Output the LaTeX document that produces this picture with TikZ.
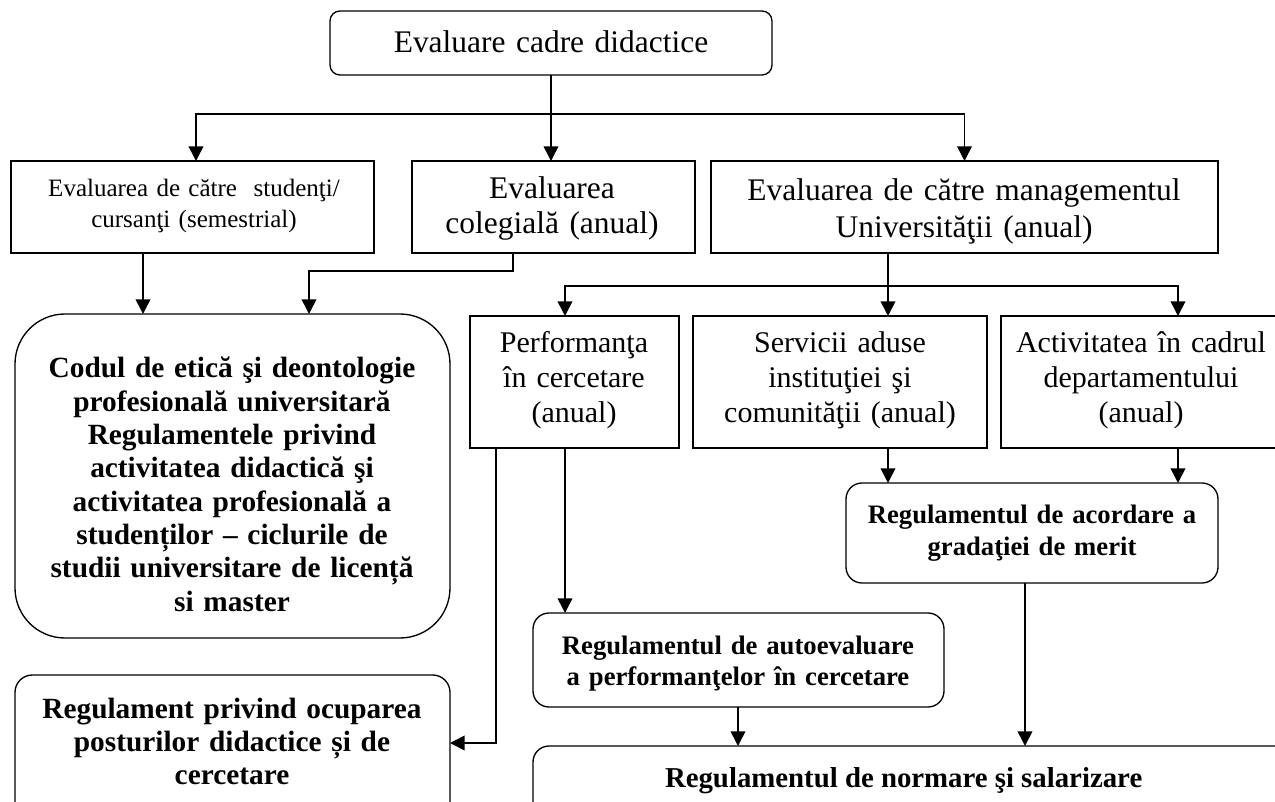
\documentclass[tikz,border=0pt]{standalone}
\usepackage{fontspec}
\setmainfont{Liberation Serif}
\usetikzlibrary{arrows.meta,calc}
\begin{document}
\begin{tikzpicture}[x=0.75pt,y=-0.75pt,
  box/.style={draw, line width=1pt, inner sep=0pt, outer sep=0pt},
  bx/.style 2 args={minimum width=#1*0.75pt, minimum height=#2*0.75pt},
  txt/.style={inner sep=0pt, outer sep=0pt, align=center, anchor=base},
  conn/.style={line width=1.2pt},
  arr/.style={conn, -{Triangle[length=11pt,width=11pt]}}]
\useasboundingbox (0,0) rectangle (1275,802);
\clip (0,0) rectangle (1275,802);

% boxes
\node[box, bx={442}{64}, rounded corners=7.5pt] (top) at (551,43) {};
\node[box, bx={363}{92}] (b1) at (192.5,207) {};
\node[box, bx={283}{92}] (b2) at (553.5,207) {};
\node[box, bx={507}{92}] (b3) at (964.5,207) {};
\node[box, bx={435}{324}, rounded corners=37.5pt] (codul) at (232.5,476) {};
\node[box, bx={209}{132}] (perf) at (574.5,382) {};
\node[box, bx={294}{132}] (serv) at (840,382) {};
\node[box, bx={280}{132}] (activ) at (1141,382) {};
\node[box, bx={372}{100}, rounded corners=12pt] (grad) at (1032,533) {};
\node[box, bx={411}{94}, rounded corners=12pt] (auto) at (738.5,660) {};
\node[box, bx={435}{160}, rounded corners=13pt] (priv) at (232.5,755) {};
\node[box, bx={800}{100}, rounded corners=12pt] (norm) at (933,796) {};

% texts
\node[txt, text width=330pt, font=\fontsize{23.6}{26}\selectfont] (ttop) at (551,53) {Evaluare cadre didactice};
\node[txt, text width=265pt, font=\fontsize{18.75}{23.25}\selectfont] (tb1) at (194,197) {Evaluarea de către~ studenţi/\\cursanţi (semestrial)};
\node[txt, text width=205pt, font=\fontsize{23.6}{26.25}\selectfont] (tb2) at (552,199) {Evaluarea\\colegială (anual)};
\node[txt, text width=370pt, font=\fontsize{23.6}{27.75}\selectfont] (tb3) at (964,201) {Evaluarea de către managementul\\Universităţii (anual)};
\node[txt, text width=155pt, font=\fontsize{22.5}{26.25}\selectfont] (tperf) at (574,353) {Performanţa\\în cercetare\\(anual)};
\node[txt, text width=215pt, font=\fontsize{22.5}{26.25}\selectfont] (tserv) at (840,353) {Servicii aduse\\instituţiei şi\\comunităţii (anual)};
\node[txt, text width=205pt, font=\fontsize{22.5}{26.25}\selectfont] (tactiv) at (1141,353) {Activitatea în cadrul\\departamentului\\(anual)};
\node[txt, text width=320pt, font=\bfseries\fontsize{22}{25}\selectfont] (tcod) at (232,378) {Codul de etică şi deontologie\\profesională universitară\\Regulamentele privind\\activitatea didactică şi\\activitatea profesională a\\studenților – ciclurile de\\studii universitare de licență\\si master};
\node[txt, text width=320pt, font=\bfseries\fontsize{22}{25}\selectfont] (tpriv) at (232,718) {Regulament privind ocuparea\\posturilor didactice și de\\cercetare};
\node[txt, text width=270pt, font=\bfseries\fontsize{20}{24}\selectfont] (tgrad) at (1032,523) {Regulamentul de acordare a\\gradaţiei de merit};
\node[txt, text width=300pt, font=\bfseries\fontsize{20}{23.25}\selectfont] (tauto) at (738,654) {Regulamentul de autoevaluare\\a performanţelor în cercetare};
\node[txt, anchor=base west, font=\bfseries\fontsize{21.6}{25}\selectfont] (tnorm) at (665,787) {Regulamentul de normare şi salarizare};

% helper coordinates
\coordinate (j1) at (551,114);
\coordinate (c143) at (143,0);
\coordinate (c309) at (309,0);
\coordinate (c513) at (513,0);
\coordinate (y271) at (0,271);
\coordinate (c888) at (888,0);
\coordinate (y286) at (0,286);
\coordinate (c565) at (565,0);
\coordinate (c1178) at (1178,0);
\coordinate (c496) at (496,0);
\coordinate (y743) at (0,743);
\coordinate (c738) at (738,0);
\coordinate (c1025) at (1025,0);

% connectors
\draw[conn] (top.south) -- (j1);
\draw[arr] (j1) -- (j1 |- b2.north);
\draw[arr] (j1) -| ($(b1.north)+(3.5,0)$);
\draw[arr] (j1) -| (b3.north);
\draw[arr] (b1.south -| c143) -- (codul.north -| c143);
\draw[arr] (b2.south -| c513) |- (c309 |- y271) -- (codul.north -| c309);
\draw[conn] (b3.south -| c888) -- (c888 |- y286);
\draw[arr] (c888 |- y286) -- (serv.north -| c888);
\draw[arr] (c888 |- y286) -| (perf.north -| c565);
\draw[arr] (c888 |- y286) -| (activ.north -| c1178);
\draw[arr] (serv.south -| c888) -- (grad.north -| c888);
\draw[arr] (activ.south -| c1178) -- (grad.north -| c1178);
\draw[arr] (perf.south -| c565) -- (auto.north -| c565);
\draw[arr] (perf.south -| c496) |- (priv.east |- y743);
\draw[arr] (auto.south -| c738) -- (norm.north -| c738);
\draw[arr] (grad.south -| c1025) -- (norm.north -| c1025);
\end{tikzpicture}
\end{document}
